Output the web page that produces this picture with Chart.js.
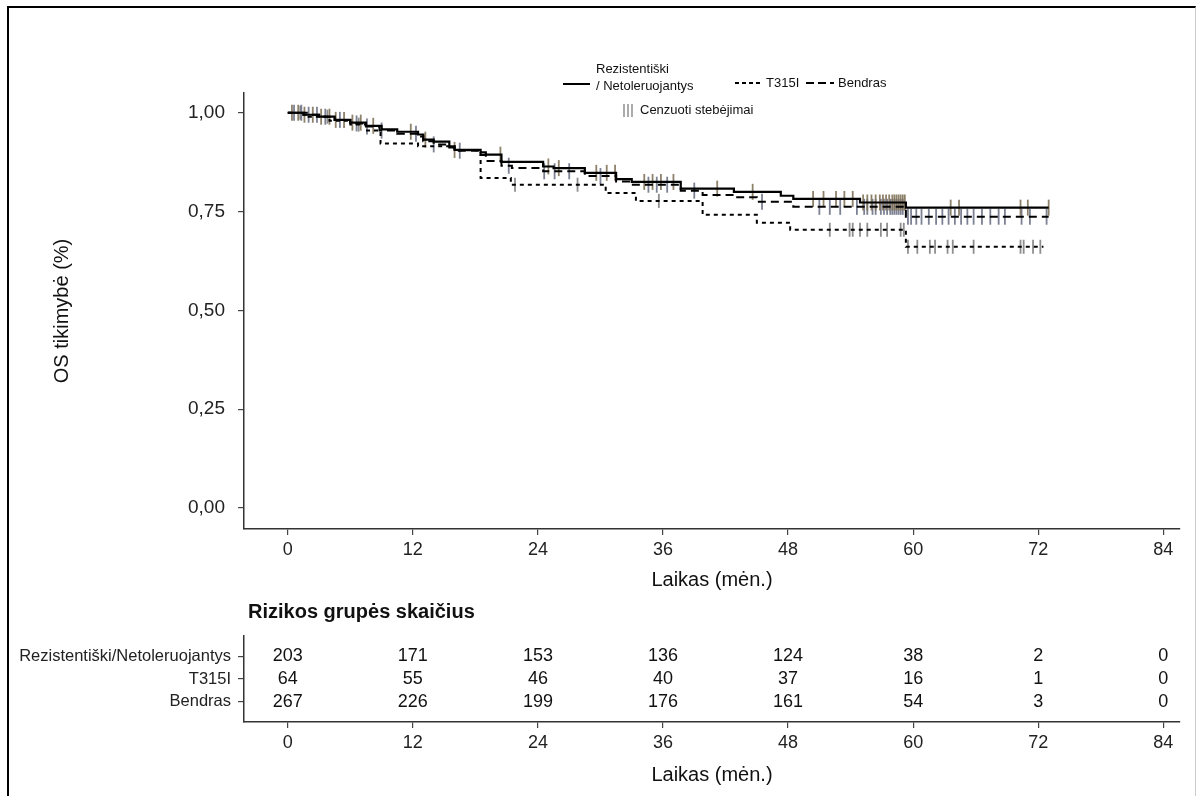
<!DOCTYPE html>
<html>
<head>
<meta charset="utf-8">
<script src="https://cdn.jsdelivr.net/npm/chart.js@4.4.1/dist/chart.umd.min.js"></script>
<style>
  html, body { margin: 0; padding: 0; background: #fff; }
  #wrap { position: relative; width: 1196px; height: 796px; overflow: hidden; }
  #frame { position: absolute; left: 7px; top: 6px; width: 1186px; height: 800px;
           border-top: 2px solid #000; border-left: 2px solid #000; border-right: 1px solid #ccc; }
  #survCanvas { position: absolute; left: 0; top: 0; }
  #riskCanvas { position: absolute; left: 0; top: 600px; }
</style>
</head>
<body>
<div id="wrap">
  <div id="frame"></div>
  <canvas id="survCanvas" width="1196" height="600" style="width:1196px;height:600px"></canvas>
  <canvas id="riskCanvas" width="1196" height="196" style="width:1196px;height:196px"></canvas>
</div>
<script>
// ---- data ----
const xTicks = [0, 12, 24, 36, 48, 60, 72, 84];
const yTicks = [0, 0.25, 0.5, 0.75, 1.0];

// Rezistentiški / Netoleruojantys (solid)
const rezT = [0, 1.5, 3, 4.5, 6, 7.5, 9, 10.5, 12.5, 13, 14, 15.5, 16, 18.5, 19, 20.5, 24.5, 25.5, 28.5, 31.5, 33, 37.7, 42.8, 47.3, 48.5, 54.9, 59.3, 73];
const rezS = [1.0, 0.995, 0.99, 0.982, 0.975, 0.967, 0.958, 0.952, 0.945, 0.932, 0.927, 0.915, 0.906, 0.9, 0.894, 0.876, 0.864, 0.86, 0.848, 0.832, 0.825, 0.808, 0.8, 0.79, 0.782, 0.773, 0.76, 0.76];
const rezCens = [0.4, 1.0, 1.6, 2.4, 3.2, 4.0, 4.6, 5.4, 6.2, 7.0, 8.2, 11.8, 13.2, 16.0, 20.4, 25.0, 26.0, 29.6, 30.6, 31.4, 34.2, 35.0, 35.8, 37.0, 41.2, 44.6, 50.4, 51.4, 52.6, 53.4, 54.2, 55.2, 55.6, 56.0, 56.4, 56.8, 57.1, 57.4, 57.7, 58.0, 58.2, 58.4, 58.6, 58.8, 59.0, 59.2, 63.6, 64.4, 70.3, 71.0, 73.0];

// T315I (short dashes)
const t315T = [0, 2, 4, 6, 7.5, 8.9, 12.5, 16, 18.5, 21.4, 30.5, 33.4, 39.8, 45, 48.2, 59.3, 72.5];
const t315S = [1.0, 0.99, 0.98, 0.97, 0.955, 0.922, 0.915, 0.905, 0.835, 0.818, 0.797, 0.777, 0.742, 0.722, 0.704, 0.661, 0.661];
const t315Cens = [1.2, 3.8, 6.8, 21.8, 27.8, 35.6, 52.0, 53.9, 54.2, 54.9, 55.6, 56.9, 57.5, 58.8, 59.1, 59.5, 60.4, 61.6, 62.1, 63.3, 63.8, 65.8, 70.3, 70.6, 71.5, 72.2];

// Bendras (long dashes)
const bendT = [0, 1.5, 3, 4.5, 6, 7.5, 8.8, 10.5, 12.5, 13, 14, 15.5, 16, 18.5, 19, 20.5, 21.5, 24.5, 28.5, 31.5, 33, 37.7, 39.8, 42.8, 45, 48.5, 59.3, 73];
const bendS = [1.0, 0.995, 0.99, 0.982, 0.973, 0.965, 0.955, 0.947, 0.94, 0.928, 0.92, 0.912, 0.904, 0.893, 0.878, 0.866, 0.86, 0.852, 0.84, 0.826, 0.818, 0.803, 0.792, 0.786, 0.775, 0.762, 0.737, 0.737];
const bendCens = [0.6, 1.3, 2.0, 2.8, 3.6, 5.0, 6.6, 7.6, 9.0, 12.3, 14.0, 16.5, 21.2, 24.6, 25.6, 27.0, 30.0, 34.6, 35.4, 36.4, 39.0, 45.5, 51.0, 52.0, 53.0, 54.6, 55.3, 55.6, 56.1, 56.4, 56.9, 57.2, 57.5, 57.8, 58.0, 58.2, 58.4, 58.6, 58.8, 59.0, 59.5, 59.8, 60.3, 60.8, 61.5, 62.2, 62.8, 63.4, 64.0, 64.6, 65.2, 65.8, 66.6, 67.4, 68.2, 68.8, 70.4, 71.2, 72.8];

// number at risk
const riskTimes = [0, 12, 24, 36, 48, 60, 72, 84];
const riskRez = [203, 171, 153, 136, 124, 38, 2, 0];
const riskT315 = [64, 55, 46, 40, 37, 16, 1, 0];
const riskBend = [267, 226, 199, 176, 161, 54, 3, 0];
const rowNames = { 3: 'Rezistentiški/Netoleruojantys', 2: 'T315I', 1: 'Bendras' };

// ---- helpers ----
const FONT = '"Liberation Sans", Arial, sans-serif';
Chart.defaults.font.family = FONT;
Chart.defaults.color = '#222';

function toPoints(ts, ss) { return ts.map((t, i) => ({ x: t, y: ss[i] })); }
// survival value of a step curve at time t (censor marks sit on the curve)
function survAt(ts, ss, t) {
  let v = ss[0];
  for (let i = 0; i < ts.length; i++) if (ts[i] <= t) v = ss[i];
  return v;
}
function censPoints(cens, ts, ss) { return cens.map(t => ({ x: t, y: survAt(ts, ss, t) })); }

function xScale(height, titlePadBottom) {
  return {
    type: 'linear', min: -4.2, max: 85.6,
    afterBuildTicks: s => { s.ticks = xTicks.map(v => ({ value: v })); },
    afterFit: s => { s.height = height; },
    ticks: { font: { size: 18 }, color: '#222', padding: 4, maxRotation: 0, autoSkip: false },
    grid: { drawOnChartArea: false, drawTicks: true, tickLength: 6, color: '#444', lineWidth: 1.2 },
    border: { display: true, color: '#333', width: 1.5 },
    title: { display: true, text: 'Laikas (mėn.)', font: { size: 20 }, color: '#111',
             padding: { top: 0, bottom: titlePadBottom } }
  };
}

// ---- legend drawn on the survival canvas ----
const kmLegend = {
  id: 'kmLegend',
  afterDraw(chart) {
    const ctx = chart.ctx;
    ctx.save();
    ctx.strokeStyle = '#000';
    ctx.lineWidth = 2;
    const sample = (x0, x1, y, dash) => {
      ctx.setLineDash(dash);
      ctx.beginPath(); ctx.moveTo(x0, y); ctx.lineTo(x1, y); ctx.stroke();
    };
    sample(563, 590, 84, []);
    sample(735, 762, 83, [4, 3]);
    sample(806, 834, 83, [8, 4]);
    ctx.setLineDash([]);
    ctx.fillStyle = '#111';
    ctx.font = '13px ' + FONT;
    ctx.textBaseline = 'middle';
    ctx.fillText('Rezistentiški', 596, 69);
    ctx.fillText('/ Netoleruojantys', 596, 86);
    ctx.fillText('T315I', 766, 83);
    ctx.fillText('Bendras', 838, 83);
    ctx.lineWidth = 1.6;
    ctx.strokeStyle = 'rgba(140,140,140,0.9)';
    [624, 628, 632].forEach(x => { ctx.beginPath(); ctx.moveTo(x, 104); ctx.lineTo(x, 117); ctx.stroke(); });
    ctx.fillText('Cenzuoti stebėjimai', 640, 110);
    ctx.restore();
  }
};

new Chart(document.getElementById('survCanvas'), {
  type: 'line',
  data: {
    datasets: [
      { label: 'Rezistentiški / Netoleruojantys', data: toPoints(rezT, rezS), stepped: true,
        borderColor: '#000', borderWidth: 2.2, pointRadius: 0, fill: false },
      { label: 'Bendras', data: toPoints(bendT, bendS), stepped: true,
        borderColor: '#000', borderWidth: 2, borderDash: [8, 5], pointRadius: 0, fill: false },
      { label: 'T315I', data: toPoints(t315T, t315S), stepped: true,
        borderColor: '#000', borderWidth: 2, borderDash: [4, 4], pointRadius: 0, fill: false },
      { type: 'scatter', label: 'cens rez', data: censPoints(rezCens, rezT, rezS), showLine: false,
        pointStyle: 'line', rotation: 90, pointRadius: 8, borderWidth: 1.8, borderColor: 'rgba(130,115,90,0.9)' },
      { type: 'scatter', label: 'cens bend', data: censPoints(bendCens, bendT, bendS), showLine: false,
        pointStyle: 'line', rotation: 90, pointRadius: 8, borderWidth: 1.8, borderColor: 'rgba(110,115,135,0.9)' },
      { type: 'scatter', label: 'cens t315', data: censPoints(t315Cens, t315T, t315S), showLine: false,
        pointStyle: 'line', rotation: 90, pointRadius: 7, borderWidth: 1.8, borderColor: 'rgba(130,130,130,0.9)' }
    ]
  },
  options: {
    responsive: false,
    animation: false,
    layout: { padding: { top: 93, right: 16, bottom: 0, left: 0 } },
    plugins: { legend: { display: false }, tooltip: { enabled: false } },
    scales: {
      x: xScale(71, 8),
      y: {
        type: 'linear', min: -0.053, max: 1.05,
        afterBuildTicks: s => { s.ticks = yTicks.map(v => ({ value: v })); },
        afterFit: s => { s.width = 244; },
        ticks: { callback: v => v.toFixed(2).replace('.', ','), font: { size: 19 }, color: '#222', padding: 13 },
        grid: { drawOnChartArea: false, drawTicks: true, tickLength: 6, color: '#444', lineWidth: 1.2 },
        border: { display: true, color: '#333', width: 1.5 },
        title: { display: true, text: 'OS tikimybė (%)', font: { size: 20 }, color: '#111',
                 padding: { top: 50, bottom: 0 } }
      }
    }
  },
  plugins: [kmLegend]
});

// ---- number-at-risk table ----
const riskRows = [
  { row: 3, counts: riskRez },
  { row: 2, counts: riskT315 },
  { row: 1, counts: riskBend }
];
const riskTable = {
  id: 'riskTable',
  afterDraw(chart) {
    const { ctx, scales: { x, y } } = chart;
    ctx.save();
    ctx.fillStyle = '#111';
    ctx.font = 'bold 20px ' + FONT;
    ctx.textBaseline = 'middle';
    ctx.textAlign = 'left';
    ctx.fillText('Rizikos grupės skaičius', chart.chartArea.left + 4, 12);
    ctx.font = '18px ' + FONT;
    ctx.textAlign = 'center';
    riskRows.forEach(r => {
      r.counts.forEach((c, i) => {
        ctx.fillText(String(c), x.getPixelForValue(riskTimes[i]), y.getPixelForValue(r.row));
      });
    });
    ctx.restore();
  }
};

new Chart(document.getElementById('riskCanvas'), {
  type: 'scatter',
  data: { datasets: [] },
  options: {
    responsive: false,
    animation: false,
    layout: { padding: { top: 36, right: 16, bottom: 0, left: 0 } },
    plugins: { legend: { display: false }, tooltip: { enabled: false } },
    scales: {
      x: xScale(74, 9),
      y: {
        type: 'linear', min: 0.1, max: 3.9,
        afterBuildTicks: s => { s.ticks = [1, 2, 3].map(v => ({ value: v })); },
        afterFit: s => { s.width = 244; },
        ticks: { callback: v => rowNames[v] || '', font: { size: 16.5 }, color: '#222', padding: 7 },
        grid: { drawOnChartArea: false, drawTicks: true, tickLength: 6, color: '#444', lineWidth: 1.2 },
        border: { display: true, color: '#333', width: 1.5 }
      }
    }
  },
  plugins: [riskTable]
});
</script>
</body>
</html>
